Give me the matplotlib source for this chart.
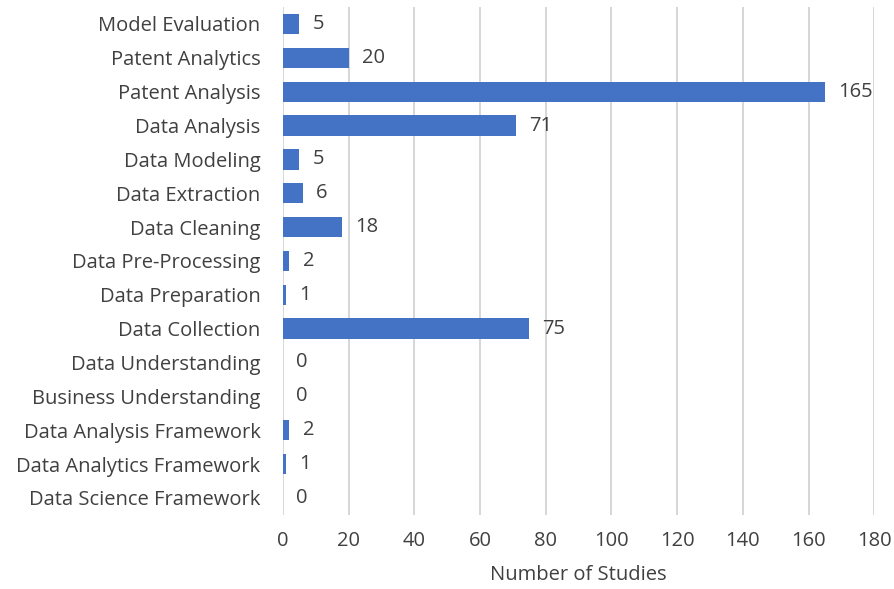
import matplotlib.pyplot as plt

# Data (top to bottom as shown in the chart)
categories = ['Model Evaluation', 'Patent Analytics', 'Patent Analysis', 'Data Analysis',
              'Data Modeling', 'Data Extraction', 'Data Cleaning', 'Data Pre-Processing',
              'Data Preparation', 'Data Collection', 'Data Understanding',
              'Business Understanding', 'Data Analysis Framework',
              'Data Analytics Framework', 'Data Science Framework']
studies = [5, 20, 165, 71, 5, 6, 18, 2, 1, 75, 0, 0, 2, 1, 0]
x_ticks = list(range(0, 181, 20))

plt.rcParams['font.family'] = ['Open Sans', 'DejaVu Sans']
text_color = '#404040'
fs = 14.5

fig = plt.figure(figsize=(8.95, 5.89), dpi=100)
ax = fig.add_axes([0.316, 0.126, 0.661, 0.862])

ypos = list(range(len(categories)))[::-1]
ax.barh(ypos, studies, height=0.6, color='#4472C4', zorder=3)

for y, v in zip(ypos, studies):
    ax.text(v + 4, y, str(v), va='center', ha='left', fontsize=fs, color=text_color)

ax.set_yticks(ypos)
ax.set_yticklabels(categories, fontsize=fs, color=text_color)
ax.set_xticks(x_ticks)
ax.set_xticklabels([str(t) for t in x_ticks], fontsize=fs, color=text_color)
ax.set_xlim(0, 180)
ax.set_ylim(-0.5, len(categories) - 0.5)
ax.set_xlabel('Number of Studies', fontsize=fs, color=text_color, labelpad=10)

ax.grid(axis='x', color='#d0d0d0', linewidth=1.2, zorder=0)
ax.tick_params(axis='y', length=0, pad=16)
ax.tick_params(axis='x', length=0, pad=12)
for s in ax.spines.values():
    s.set_visible(False)

fig.savefig('out.png', dpi=100)
